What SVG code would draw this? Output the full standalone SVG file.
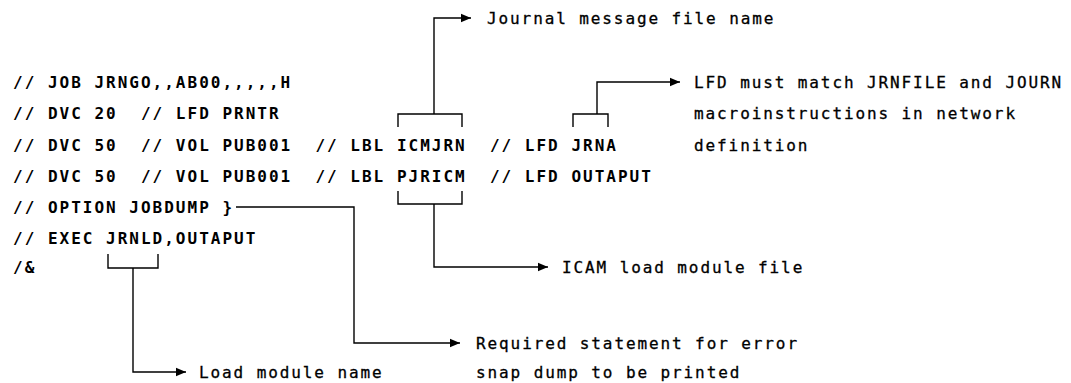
<svg xmlns="http://www.w3.org/2000/svg" width="1071" height="383" viewBox="0 0 1071 383">
<style>
.code{font-family:"DejaVu Sans Mono","Liberation Mono",monospace;font-size:16px;font-weight:bold;letter-spacing:2px;fill:#000}
.note{font-family:"DejaVu Sans Mono","Liberation Mono",monospace;font-size:16px;letter-spacing:1.9px;fill:#000;stroke:#000;stroke-width:0.3}
.ln{fill:none;stroke:#000;stroke-width:1.4}
</style>
<defs>
<marker id="ah" markerUnits="userSpaceOnUse" markerWidth="10" markerHeight="10" refX="10" refY="5" orient="auto">
<path d="M0,0.8 L10,5 L0,9.2 z" fill="#000"/>
</marker>
</defs>
<rect width="1071" height="383" fill="#fff"/>
<g id="jcl">
<g id="line1"><text class="code" x="13" y="88" xml:space="preserve">// JOB JRNGO,,AB00,,,,,H</text></g>
<g id="line2"><text class="code" x="13" y="119" xml:space="preserve">// DVC 20  // LFD PRNTR</text></g>
<g id="line3"><text class="code" x="13" y="151" xml:space="preserve">// DVC 50  // VOL PUB001  // LBL ICMJRN  // LFD JRNA</text></g>
<g id="line4"><text class="code" x="13" y="182" xml:space="preserve">// DVC 50  // VOL PUB001  // LBL PJRICM  // LFD OUTAPUT</text></g>
<g id="line5"><text class="code" x="13" y="213" xml:space="preserve">// OPTION JOBDUMP }</text></g>
<g id="line6"><text class="code" x="13" y="244" xml:space="preserve">// EXEC JRNLD,OUTAPUT</text></g>
<g id="line7"><text class="code" x="13" y="273" xml:space="preserve">/&amp;</text></g>
</g>
<g id="note-journal"><text class="note" x="487" y="24">Journal message file name</text></g>
<g id="note-lfd">
<text class="note" x="694" y="88">LFD must match JRNFILE and JOURN</text>
<text class="note" x="694" y="119">macroinstructions in network</text>
<text class="note" x="694" y="151">definition</text>
</g>
<g id="note-icam"><text class="note" x="562" y="273">ICAM load module file</text></g>
<g id="note-required">
<text class="note" x="476" y="349">Required statement for error</text>
<text class="note" x="476" y="378">snap dump to be printed</text>
</g>
<g id="note-load"><text class="note" x="199" y="378">Load module name</text></g>
<g id="connectors">
<path class="ln" d="M398,127 V114 H462 V127"/>
<path class="ln" d="M434,114 V18 H471" marker-end="url(#ah)"/>
<path class="ln" d="M573,127 V114 H608 V127"/>
<path class="ln" d="M597,114 V82 H680" marker-end="url(#ah)"/>
<path class="ln" d="M398,191 V204 H462 V191"/>
<path class="ln" d="M434,204 V267 H548" marker-end="url(#ah)"/>
<path class="ln" d="M236,207 H354 V343 H460" marker-end="url(#ah)"/>
<path class="ln" d="M108,254 V268 H158 V254"/>
<path class="ln" d="M133,268 V372 H186" marker-end="url(#ah)"/>
</g>
</svg>
